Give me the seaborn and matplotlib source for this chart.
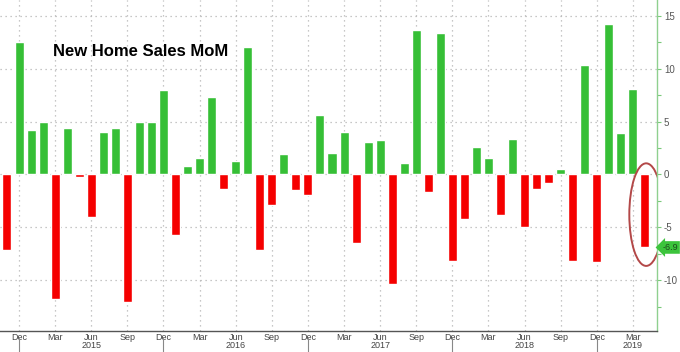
import pandas as pd
import matplotlib.pyplot as plt
import seaborn as sns
from matplotlib.patches import Ellipse
from matplotlib.ticker import FixedLocator, MultipleLocator

# Monthly new home sales MoM % change, Nov 2014 - Apr 2019
months = pd.date_range('2014-11-01', '2019-04-01', freq='MS')
mom = [-7.1, 12.5, 4.2, 5.0, -11.8, 4.4, -0.2, -4.0, 4.0, 4.4, -12.1, 5.0,
       5.0, 8.0, -5.7, 0.8, 1.6, 7.3, -1.4, 1.3, 12.1, -7.1, -2.9, 1.9,
       -1.5, -1.9, 5.6, 2.0, 4.0, -6.5, 3.1, 3.3, -10.4, 1.1, 13.7, -1.7,
       13.4, -8.2, -4.2, 2.6, 1.6, -3.8, 3.4, -5.0, -1.4, -0.8, 0.5, -8.2,
       10.4, -8.3, 14.2, 3.9, 8.1, -6.9]
title = 'New Home Sales MoM'
y_ticks = [-10, -5, 0, 5, 10, 15]

df = pd.DataFrame({'month': months, 'mom': mom})
df['idx'] = range(len(df))
df['sign'] = ['up' if v >= 0 else 'down' for v in df['mom']]

green = '#36bf36'
red = '#f50000'
grid_col = '#b5b5b5'
tick_font = ['Liberation Sans Narrow', 'Liberation Sans', 'DejaVu Sans']

sns.set_style('white')
plt.rcParams['font.family'] = ['Liberation Sans', 'DejaVu Sans']

fig = plt.figure(figsize=(6.8, 3.52), dpi=100)
ax = fig.add_axes([0, 21 / 352, 657 / 680, 331 / 352])

sns.barplot(data=df, x='idx', y='mom', hue='sign', palette={'up': green, 'down': red},
            dodge=False, width=0.75, legend=False, ax=ax, saturation=1, native_scale=True)

ax.set_xlim(-0.58, len(df) - 0.0)
ax.set_ylim(-14.8, 16.5)
ax.set_xlabel('')
ax.set_ylabel('')

# quarter ticks: Dec, Mar, Jun, Sep
quarter = df[df['month'].dt.month.isin([3, 6, 9, 12])]
ax.xaxis.set_major_locator(FixedLocator(quarter['idx'].tolist()))
ax.set_xticklabels(quarter['month'].dt.strftime('%b'), family=tick_font)
ax.xaxis.set_minor_locator(FixedLocator(df['idx'].tolist()))
ax.tick_params(axis='x', which='both', direction='out', length=1.5, width=0.8,
               color='#555555', labelsize=6.5, labelcolor='#444444', pad=0)

ax.yaxis.tick_right()
ax.set_yticks(y_ticks)
ax.set_yticklabels([str(t) for t in y_ticks], family=tick_font)
ax.yaxis.set_minor_locator(MultipleLocator(2.5))
ax.tick_params(axis='y', which='both', direction='out', length=3, width=0.8,
               color='#7ac97a', labelsize=7, labelcolor='#555555', pad=2)

ax.grid(True, axis='both', which='major', color=grid_col, linestyle=(0, (1, 3)), lw=0.9)
ax.set_axisbelow(True)

for s in ['top', 'left']:
    ax.spines[s].set_visible(False)
ax.spines['right'].set_color('#8fd08f')
ax.spines['right'].set_linewidth(1)
ax.spines['bottom'].set_color('#555555')
ax.spines['bottom'].set_linewidth(1)

# year labels and separators
trans = ax.get_xaxis_transform()
for yr, g in df.groupby(df['month'].dt.year):
    if yr == 2014:
        continue
    centre = g.loc[g['month'].dt.month == 6, 'idx']
    xc = centre.iloc[0] if len(centre) else g['idx'].mean() + 0.5
    ax.text(xc, -0.029, str(yr), transform=trans, ha='center', va='top',
            fontsize=6.5, color='#444444', family=tick_font)
for xd in df.loc[df['month'].dt.month == 12, 'idx']:
    ax.plot([xd, xd], [-0.02, -0.062], transform=trans, color='#888888',
            lw=0.8, clip_on=False)

ax.text(3.8, 11.6, title, fontsize=12, fontweight='bold', color='black',
        ha='left', va='center')

# last value tag + circle
last = df.iloc[-1]
ax.annotate(f"{last['mom']:.1f}", xy=(len(df), last['mom']),
            xytext=(len(df) + 0.45, last['mom']), textcoords='data',
            ha='left', va='center', fontsize=6.5, color='#1d4d1d', family=tick_font,
            bbox=dict(boxstyle='larrow,pad=0.2', fc='#3cc43c', ec='none'),
            annotation_clip=False)
ax.add_patch(Ellipse((last['idx'] + 0.1, last['mom'] * 0.55), 2.8,
                     abs(last['mom']) + 2.8, fill=False, ec='#b34848', lw=1.4))

fig.savefig('out.png', dpi=100)
